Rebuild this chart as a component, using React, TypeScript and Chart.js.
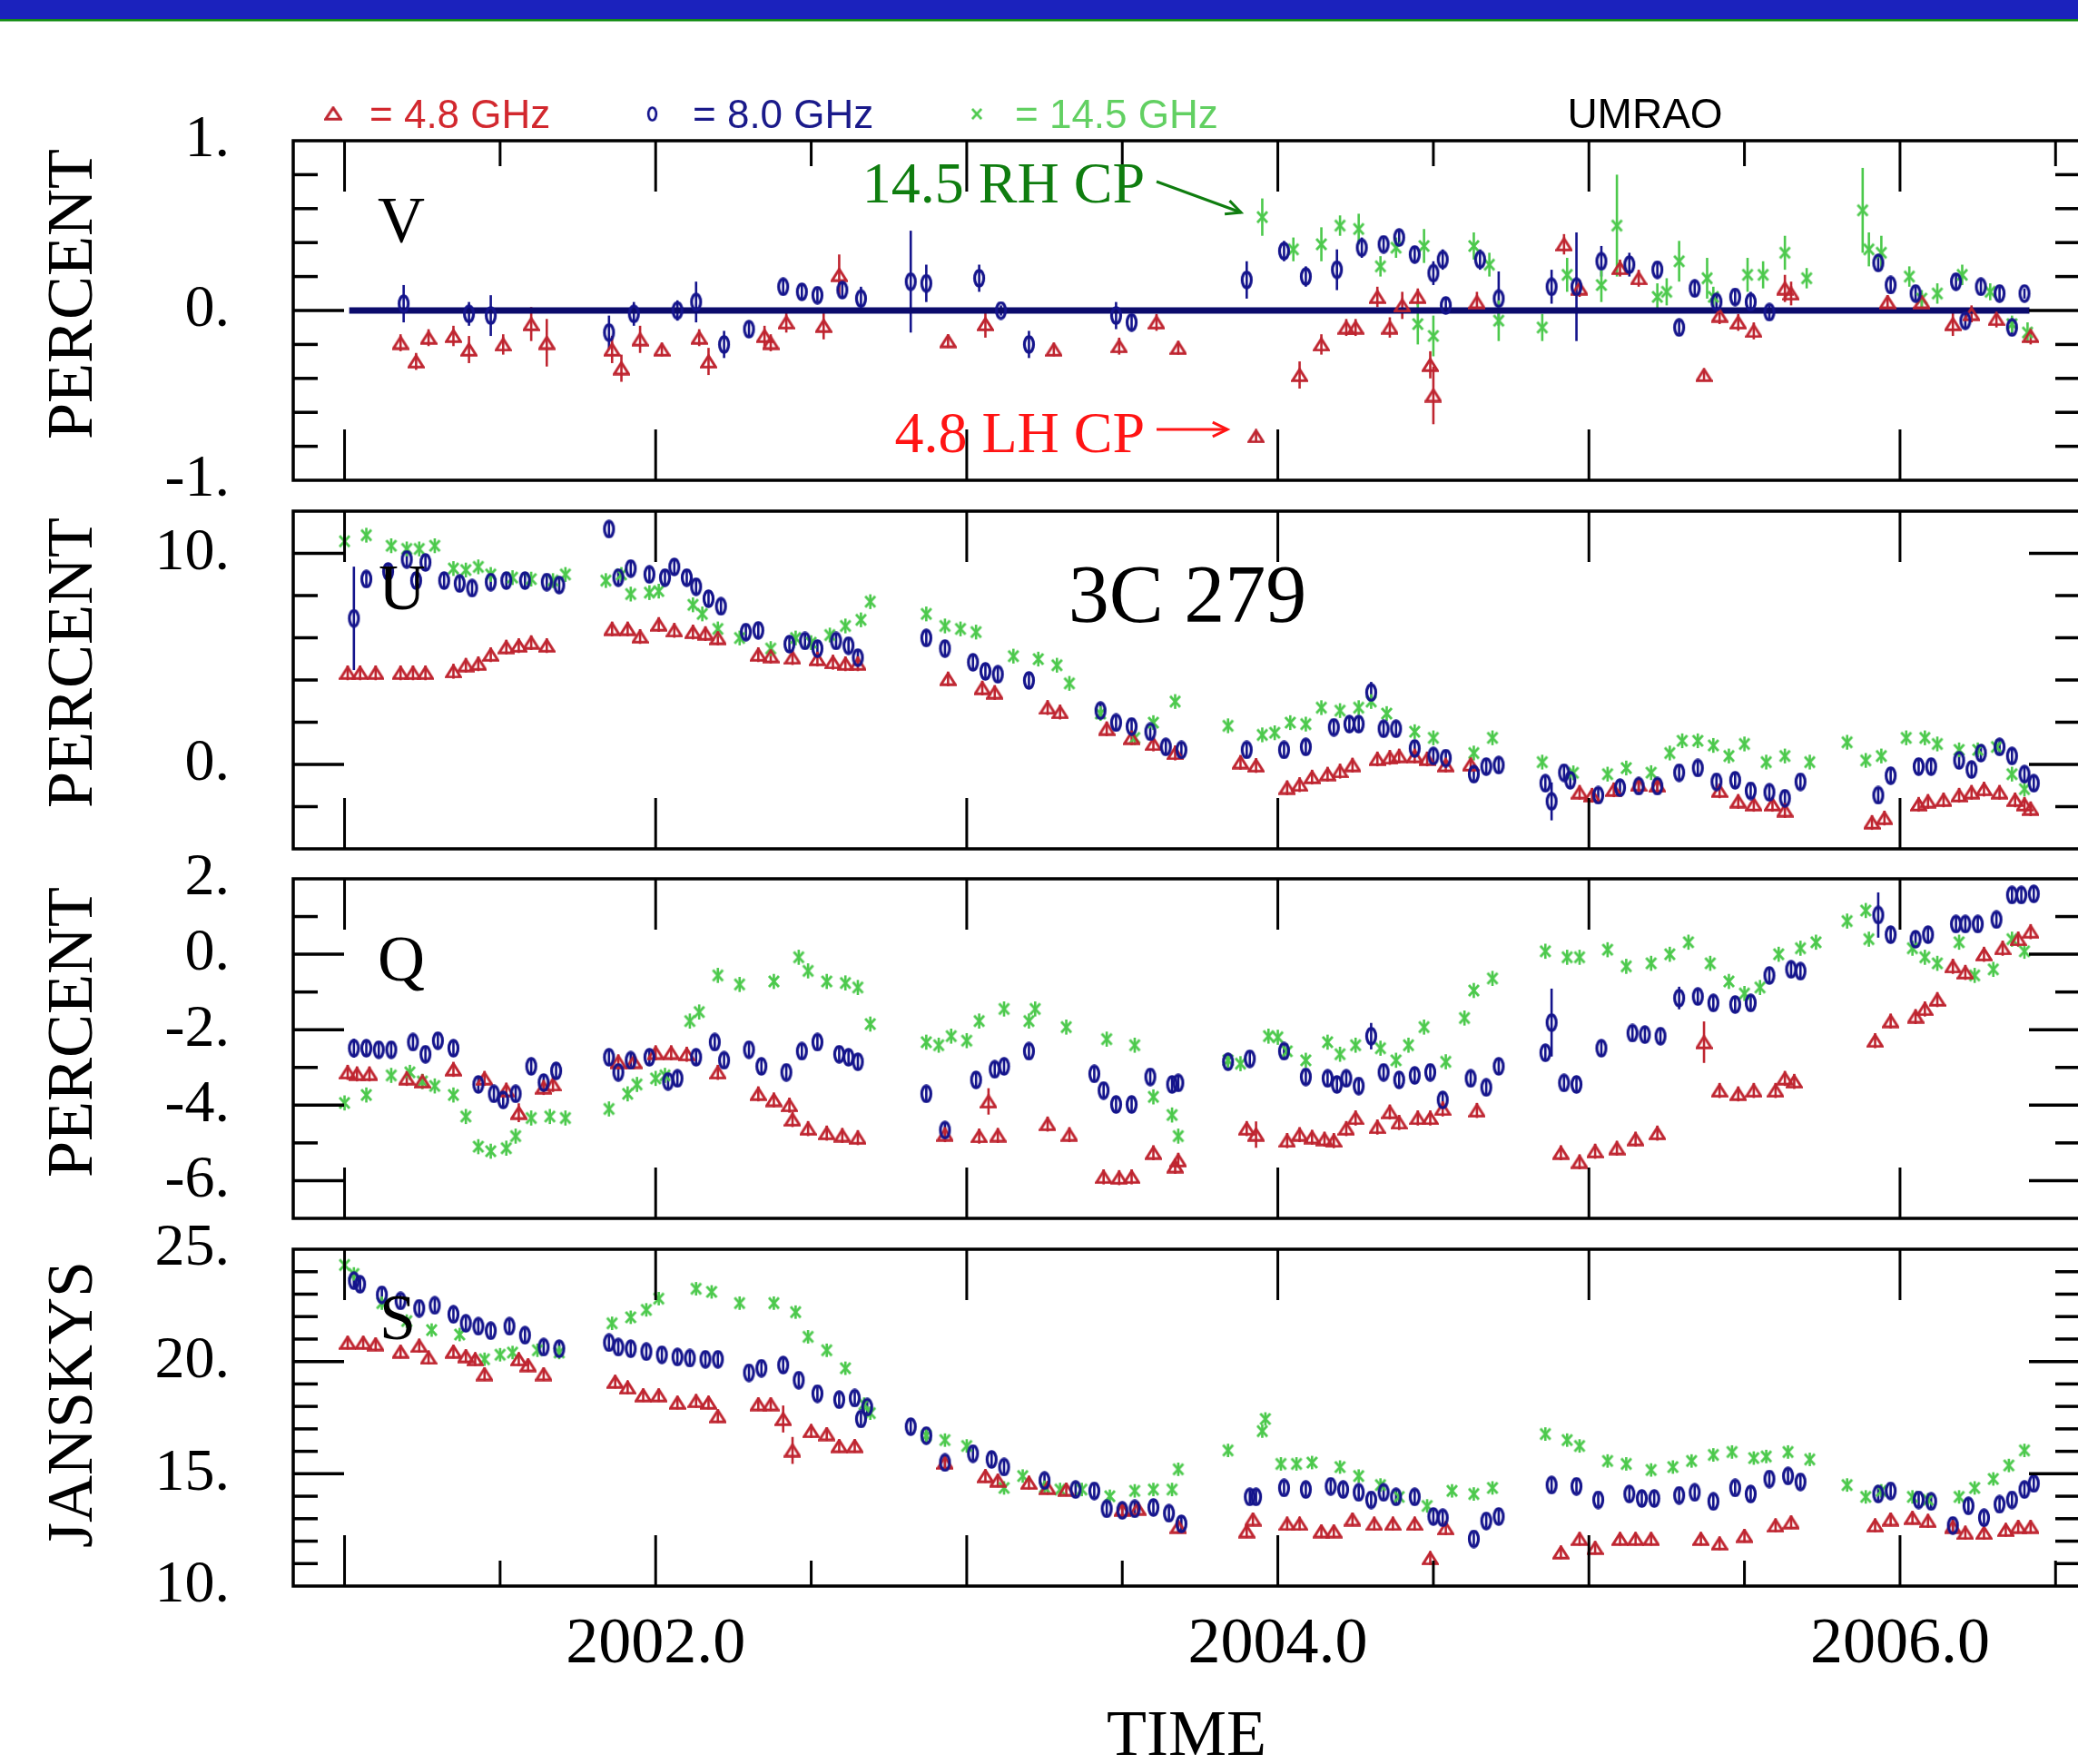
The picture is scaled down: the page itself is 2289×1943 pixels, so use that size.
import React, { useEffect, useRef } from 'react';
import { Chart, registerables } from 'chart.js';
Chart.register(...registerables);

// ---------------- data ----------------
const X_MIN = 2000.835;
const X_MAX = 2006.578;
const YEARS = [2001, 2002, 2003, 2004, 2005, 2006];
const HALF_YEARS = [2001.5, 2002.5, 2003.5, 2004.5, 2005.5, 2006.5];
const X_LABELS = [2002, 2004, 2006];
const ZERO_LINE_T = [2001.015, 2006.416];
const ZERO_LINE_V = [0, 0];

// V (circular polarization, percent)
const V_RED_T = [2001.18,2001.23,2001.27,2001.35,2001.40,2001.51,2001.60,2001.65,2001.86,2001.89,2001.95,2002.02,2002.14,2002.17,2002.35,2002.37,2002.42,2002.54,2002.59,2002.94,2003.06,2003.28,2003.49,2003.61,2003.68,2003.93,2004.07,2004.14,2004.22,2004.25,2004.32,2004.36,2004.40,2004.45,2004.49,2004.50,2004.64,2004.92,2004.97,2005.10,2005.16,2005.37,2005.42,2005.48,2005.53,2005.63,2005.65,2005.96,2006.07,2006.17,2006.23,2006.31,2006.42];
const V_RED = [-0.19,-0.30,-0.16,-0.15,-0.23,-0.20,-0.08,-0.19,-0.23,-0.34,-0.17,-0.23,-0.16,-0.30,-0.15,-0.19,-0.07,-0.09,0.21,-0.18,-0.08,-0.23,-0.21,-0.07,-0.22,-0.74,-0.38,-0.20,-0.10,-0.10,0.08,-0.10,0.03,0.08,-0.32,-0.50,0.05,0.39,0.13,0.25,0.19,-0.38,-0.03,-0.07,-0.12,0.13,0.10,0.05,0.05,-0.08,-0.02,-0.05,-0.15];
const V_RED_ERR = [0.05,0.05,0.05,0.06,0.08,0.06,0.10,0.14,0.08,0.08,0.08,0.04,0.05,0.08,0.06,0.05,0.06,0.08,0.12,0.04,0.08,0.04,0.05,0.05,0.04,0.03,0.08,0.06,0.05,0.05,0.06,0.06,0.08,0.05,0.08,0.17,0.06,0.06,0.05,0.05,0.05,0.03,0.05,0.05,0.05,0.08,0.07,0.04,0.05,0.07,0.05,0.05,0.05];
const V_BLUE_T = [2001.19,2001.40,2001.47,2001.85,2001.93,2002.07,2002.13,2002.22,2002.30,2002.41,2002.47,2002.52,2002.60,2002.66,2002.82,2002.87,2003.04,2003.11,2003.20,2003.48,2003.53,2003.90,2004.02,2004.09,2004.19,2004.27,2004.34,2004.39,2004.44,2004.50,2004.53,2004.54,2004.65,2004.71,2004.88,2004.96,2005.04,2005.13,2005.22,2005.29,2005.34,2005.41,2005.47,2005.52,2005.58,2005.93,2005.97,2006.05,2006.18,2006.21,2006.26,2006.32,2006.36,2006.40];
const V_BLUE = [0.04,-0.02,-0.03,-0.13,-0.02,0.00,0.05,-0.20,-0.11,0.14,0.11,0.09,0.12,0.07,0.17,0.16,0.19,0.00,-0.20,-0.03,-0.07,0.18,0.35,0.20,0.24,0.37,0.39,0.43,0.33,0.22,0.30,0.03,0.30,0.07,0.14,0.14,0.29,0.27,0.24,-0.10,0.13,0.05,0.08,0.05,-0.01,0.28,0.15,0.10,0.17,-0.06,0.14,0.10,-0.10,0.10];
const V_BLUE_ERR = [0.11,0.07,0.12,0.10,0.07,0.06,0.12,0.08,0.05,0.05,0.04,0.04,0.05,0.07,0.30,0.11,0.08,0.03,0.08,0.08,0.05,0.11,0.06,0.06,0.12,0.06,0.04,0.04,0.05,0.07,0.06,0.05,0.06,0.16,0.10,0.32,0.09,0.07,0.05,0.04,0.05,0.04,0.05,0.06,0.04,0.05,0.05,0.04,0.05,0.05,0.05,0.04,0.04,0.03];
const V_GREEN_T = [2003.95,2004.05,2004.14,2004.20,2004.26,2004.33,2004.38,2004.45,2004.47,2004.50,2004.63,2004.68,2004.71,2004.85,2004.93,2005.04,2005.09,2005.22,2005.25,2005.29,2005.38,2005.40,2005.51,2005.56,2005.63,2005.70,2005.88,2005.90,2005.94,2006.03,2006.07,2006.12,2006.20,2006.29,2006.36,2006.41];
const V_GREEN = [0.55,0.36,0.39,0.50,0.48,0.26,0.37,-0.08,0.38,-0.15,0.38,0.27,-0.06,-0.10,0.21,0.15,0.50,0.08,0.11,0.29,0.19,0.08,0.21,0.21,0.34,0.19,0.59,0.36,0.34,0.20,0.07,0.10,0.21,0.11,-0.08,-0.13];
const V_GREEN_ERR = [0.11,0.07,0.10,0.06,0.09,0.06,0.06,0.12,0.10,0.12,0.08,0.07,0.12,0.08,0.10,0.10,0.30,0.08,0.08,0.12,0.12,0.06,0.10,0.08,0.10,0.06,0.25,0.10,0.10,0.06,0.05,0.06,0.06,0.05,0.05,0.06];

// U (percent)
const U_RED_T = [2001.01,2001.05,2001.10,2001.18,2001.22,2001.26,2001.35,2001.39,2001.43,2001.47,2001.52,2001.56,2001.60,2001.65,2001.86,2001.91,2001.95,2002.01,2002.06,2002.12,2002.16,2002.20,2002.33,2002.37,2002.44,2002.52,2002.57,2002.61,2002.65,2002.94,2003.05,2003.09,2003.26,2003.30,2003.45,2003.53,2003.60,2003.67,2003.88,2003.93,2004.03,2004.07,2004.11,2004.16,2004.20,2004.24,2004.32,2004.36,2004.39,2004.44,2004.48,2004.54,2004.62,2004.97,2005.01,2005.08,2005.16,2005.22,2005.42,2005.48,2005.53,2005.59,2005.63,2005.91,2005.95,2006.06,2006.09,2006.14,2006.19,2006.23,2006.27,2006.32,2006.37,2006.40,2006.42];
const U_RED = [4.34,4.34,4.34,4.34,4.34,4.34,4.41,4.70,4.77,5.20,5.56,5.63,5.77,5.63,6.42,6.42,6.06,6.63,6.35,6.27,6.20,5.99,5.20,5.13,5.06,4.99,4.84,4.77,4.77,4.05,3.62,3.41,2.69,2.48,1.69,1.26,0.97,0.54,0.10,-0.05,-1.10,-0.96,-0.60,-0.46,-0.32,-0.03,0.26,0.33,0.40,0.40,0.26,-0.03,0.00,-1.32,-1.46,-1.20,-0.96,-1.00,-1.25,-1.75,-1.89,-1.89,-2.18,-2.75,-2.54,-1.89,-1.75,-1.68,-1.46,-1.32,-1.17,-1.32,-1.68,-1.89,-2.10];
const U_BLUE_T = [2001.03,2001.07,2001.14,2001.20,2001.23,2001.26,2001.32,2001.37,2001.41,2001.47,2001.52,2001.58,2001.65,2001.69,2001.85,2001.88,2001.92,2001.98,2002.03,2002.06,2002.10,2002.13,2002.17,2002.21,2002.29,2002.33,2002.43,2002.48,2002.52,2002.58,2002.62,2002.65,2002.87,2002.93,2003.02,2003.06,2003.10,2003.20,2003.43,2003.48,2003.53,2003.59,2003.64,2003.69,2003.90,2004.02,2004.09,2004.18,2004.23,2004.26,2004.30,2004.34,2004.38,2004.44,2004.50,2004.54,2004.63,2004.67,2004.71,2004.86,2004.88,2004.92,2004.94,2005.03,2005.10,2005.16,2005.22,2005.29,2005.35,2005.41,2005.47,2005.52,2005.58,2005.63,2005.68,2005.93,2005.97,2006.06,2006.10,2006.19,2006.23,2006.26,2006.32,2006.36,2006.40,2006.43];
const U_BLUE = [6.92,8.78,9.14,9.71,8.71,9.57,8.71,8.57,8.35,8.64,8.71,8.71,8.64,8.50,11.15,8.85,9.28,9.00,8.85,9.36,8.85,8.42,7.85,7.49,6.27,6.35,5.70,5.85,5.49,5.85,5.63,5.06,5.99,5.49,4.84,4.41,4.27,3.98,2.55,1.98,1.80,1.55,0.83,0.69,0.69,0.69,0.83,1.76,1.91,1.91,3.41,1.69,1.69,0.76,0.40,0.30,-0.46,-0.10,-0.03,-0.89,-1.75,-0.39,-0.75,-1.46,-1.10,-1.03,-1.03,-0.39,-0.17,-0.82,-0.75,-1.25,-1.32,-1.60,-0.82,-1.46,-0.53,-0.10,-0.10,0.19,-0.24,0.54,0.83,0.40,-0.46,-0.89];
const U_GREEN_T = [2001.00,2001.07,2001.15,2001.20,2001.24,2001.29,2001.35,2001.39,2001.43,2001.47,2001.54,2001.60,2001.67,2001.71,2001.84,2001.89,2001.92,2001.98,2002.01,2002.12,2002.15,2002.20,2002.27,2002.37,2002.45,2002.50,2002.56,2002.61,2002.66,2002.69,2002.87,2002.93,2002.98,2003.03,2003.15,2003.23,2003.29,2003.33,2003.43,2003.54,2003.60,2003.67,2003.84,2003.95,2003.99,2004.04,2004.09,2004.14,2004.20,2004.26,2004.30,2004.35,2004.44,2004.50,2004.63,2004.69,2004.85,2004.95,2005.06,2005.12,2005.20,2005.26,2005.30,2005.35,2005.40,2005.45,2005.50,2005.57,2005.63,2005.71,2005.83,2005.89,2005.94,2006.02,2006.08,2006.12,2006.19,2006.25,2006.31,2006.36,2006.40];
const U_GREEN = [10.57,10.86,10.36,10.21,10.21,10.36,9.28,9.21,9.36,9.00,8.85,8.78,8.71,9.00,8.71,9.00,8.07,8.14,8.21,7.56,7.13,6.42,5.99,5.49,5.99,5.77,6.13,6.56,6.85,7.71,7.13,6.56,6.42,6.27,5.13,4.99,4.70,3.84,2.41,1.26,1.98,2.98,1.83,1.40,1.50,1.98,1.91,2.69,2.55,2.69,2.98,2.41,1.55,1.26,0.54,1.26,0.11,-0.40,-0.46,-0.17,-0.39,0.54,1.12,1.12,0.90,0.40,0.97,0.11,0.40,0.11,1.05,0.19,0.40,1.26,1.26,0.97,0.69,0.69,0.83,-0.46,-1.17];

// Q (percent)
const Q_RED_T = [2001.01,2001.04,2001.08,2001.20,2001.25,2001.35,2001.45,2001.52,2001.56,2001.64,2001.67,2001.88,2001.93,2002.00,2002.05,2002.10,2002.20,2002.33,2002.38,2002.43,2002.44,2002.49,2002.55,2002.60,2002.65,2002.93,2003.04,2003.07,2003.10,2003.26,2003.33,2003.44,2003.49,2003.53,2003.60,2003.67,2003.68,2003.90,2003.93,2004.03,2004.07,2004.11,2004.15,2004.18,2004.22,2004.25,2004.32,2004.36,2004.39,2004.45,2004.49,2004.53,2004.64,2004.91,2004.97,2005.02,2005.09,2005.15,2005.22,2005.37,2005.42,2005.48,2005.53,2005.60,2005.63,2005.66,2005.92,2005.97,2006.05,2006.08,2006.12,2006.17,2006.21,2006.27,2006.33,2006.38,2006.42];
const Q_RED = [-3.13,-3.17,-3.17,-3.29,-3.37,-3.05,-3.29,-3.60,-4.20,-3.53,-3.45,-2.85,-2.85,-2.61,-2.61,-2.65,-3.13,-3.70,-3.86,-4.00,-4.38,-4.62,-4.74,-4.80,-4.86,-4.78,-4.82,-3.90,-4.80,-4.50,-4.78,-5.90,-5.92,-5.90,-5.26,-5.62,-5.46,-4.62,-4.78,-4.94,-4.78,-4.85,-4.90,-4.94,-4.62,-4.34,-4.58,-4.18,-4.46,-4.34,-4.34,-4.10,-4.14,-5.26,-5.50,-5.22,-5.14,-4.90,-4.74,-2.33,-3.61,-3.70,-3.61,-3.61,-3.29,-3.37,-2.29,-1.77,-1.65,-1.45,-1.20,-0.32,-0.48,0.00,0.16,0.40,0.60];
const Q_BLUE_T = [2001.03,2001.07,2001.11,2001.15,2001.22,2001.26,2001.30,2001.35,2001.43,2001.48,2001.51,2001.55,2001.60,2001.64,2001.68,2001.85,2001.88,2001.92,2001.98,2002.04,2002.07,2002.13,2002.19,2002.22,2002.30,2002.34,2002.42,2002.47,2002.52,2002.59,2002.62,2002.65,2002.87,2002.93,2003.03,2003.09,2003.12,2003.20,2003.41,2003.44,2003.48,2003.53,2003.59,2003.66,2003.68,2003.84,2003.91,2004.02,2004.09,2004.16,2004.19,2004.22,2004.26,2004.30,2004.34,2004.39,2004.44,2004.49,2004.53,2004.62,2004.67,2004.71,2004.86,2004.88,2004.92,2004.96,2005.04,2005.14,2005.18,2005.23,2005.29,2005.35,2005.40,2005.47,2005.52,2005.58,2005.65,2005.68,2005.93,2005.97,2006.05,2006.09,2006.18,2006.21,2006.25,2006.31,2006.36,2006.39,2006.43];
const Q_BLUE = [-2.49,-2.49,-2.53,-2.53,-2.33,-2.65,-2.29,-2.49,-3.45,-3.70,-3.86,-3.70,-2.97,-3.40,-3.09,-2.73,-3.13,-2.81,-2.73,-3.37,-3.29,-2.73,-2.33,-2.81,-2.53,-2.97,-3.13,-2.57,-2.33,-2.65,-2.73,-2.85,-3.70,-4.66,-3.33,-3.05,-2.97,-2.57,-3.17,-3.61,-3.98,-3.98,-3.25,-3.45,-3.41,-2.85,-2.77,-2.57,-3.25,-3.29,-3.45,-3.29,-3.49,-2.17,-3.13,-3.33,-3.21,-3.13,-3.86,-3.29,-3.53,-2.97,-2.61,-1.81,-3.41,-3.45,-2.49,-2.09,-2.13,-2.17,-1.16,-1.12,-1.29,-1.33,-1.29,-0.56,-0.40,-0.45,1.04,0.52,0.40,0.52,0.80,0.80,0.80,0.92,1.57,1.57,1.60];
const Q_GREEN_T = [2001.00,2001.07,2001.15,2001.21,2001.25,2001.29,2001.35,2001.39,2001.43,2001.47,2001.52,2001.55,2001.60,2001.66,2001.71,2001.85,2001.91,2001.94,2002.00,2002.03,2002.11,2002.14,2002.20,2002.27,2002.38,2002.46,2002.49,2002.55,2002.61,2002.65,2002.69,2002.87,2002.91,2002.95,2003.00,2003.04,2003.12,2003.20,2003.22,2003.32,2003.45,2003.54,2003.60,2003.66,2003.68,2003.84,2003.88,2003.97,2004.00,2004.03,2004.09,2004.16,2004.20,2004.25,2004.33,2004.38,2004.42,2004.47,2004.54,2004.60,2004.63,2004.69,2004.86,2004.93,2004.97,2005.06,2005.12,2005.20,2005.26,2005.32,2005.39,2005.45,2005.50,2005.55,2005.61,2005.68,2005.73,2005.83,2005.89,2005.90,2006.04,2006.08,2006.12,2006.19,2006.24,2006.30,2006.36,2006.40];
const Q_GREEN = [-3.94,-3.73,-3.21,-3.13,-3.37,-3.49,-3.73,-4.30,-5.10,-5.22,-5.14,-4.82,-4.34,-4.30,-4.34,-4.10,-3.70,-3.45,-3.29,-3.21,-1.77,-1.53,-0.56,-0.80,-0.72,-0.08,-0.44,-0.72,-0.76,-0.88,-1.85,-2.33,-2.41,-2.17,-2.29,-1.77,-1.45,-1.77,-1.45,-1.93,-2.25,-2.41,-3.78,-4.26,-4.82,-2.81,-2.90,-2.17,-2.20,-2.57,-2.81,-2.33,-2.65,-2.41,-2.49,-2.81,-2.41,-1.93,-2.85,-1.69,-0.96,-0.64,0.08,-0.08,-0.08,0.12,-0.32,-0.24,0.00,0.32,-0.24,-0.72,-1.04,-0.88,0.00,0.16,0.32,0.88,1.16,0.40,0.16,-0.08,-0.24,0.32,-0.56,-0.40,0.40,0.08];

// S (flux density, Jy)
const S_RED_T = [2001.01,2001.06,2001.10,2001.18,2001.24,2001.27,2001.35,2001.39,2001.42,2001.45,2001.56,2001.59,2001.64,2001.87,2001.91,2001.96,2002.01,2002.07,2002.13,2002.17,2002.20,2002.33,2002.37,2002.41,2002.44,2002.50,2002.55,2002.59,2002.64,2002.93,2003.06,2003.10,2003.20,2003.26,2003.32,2003.50,2003.55,2003.68,2003.90,2003.92,2004.03,2004.07,2004.14,2004.18,2004.24,2004.31,2004.37,2004.44,2004.49,2004.54,2004.91,2004.97,2005.02,2005.10,2005.15,2005.20,2005.36,2005.42,2005.50,2005.60,2005.65,2005.92,2005.97,2006.04,2006.09,2006.17,2006.21,2006.27,2006.34,2006.38,2006.42];
const S_RED = [20.84,20.84,20.77,20.44,20.70,20.17,20.44,20.24,20.10,19.44,20.10,19.84,19.44,19.10,18.84,18.50,18.50,18.17,18.24,18.17,17.57,18.10,18.10,17.44,16.04,16.90,16.77,16.24,16.24,15.50,14.90,14.70,14.60,14.37,14.30,13.40,13.45,12.64,12.44,12.97,12.77,12.77,12.44,12.44,12.97,12.77,12.77,12.77,11.24,12.57,11.50,12.10,11.70,12.10,12.10,12.10,12.10,11.90,12.24,12.70,12.84,12.70,12.97,13.04,12.90,12.64,12.37,12.37,12.50,12.64,12.64];
const S_BLUE_T = [2001.03,2001.05,2001.12,2001.18,2001.24,2001.29,2001.35,2001.39,2001.43,2001.47,2001.53,2001.58,2001.64,2001.69,2001.85,2001.88,2001.92,2001.97,2002.02,2002.07,2002.11,2002.16,2002.20,2002.30,2002.34,2002.41,2002.46,2002.52,2002.59,2002.64,2002.66,2002.68,2002.82,2002.87,2002.93,2003.02,2003.08,2003.12,2003.25,2003.35,2003.41,2003.45,2003.50,2003.54,2003.60,2003.65,2003.69,2003.91,2003.93,2004.02,2004.09,2004.17,2004.21,2004.26,2004.30,2004.34,2004.38,2004.44,2004.50,2004.53,2004.63,2004.67,2004.71,2004.88,2004.96,2005.03,2005.13,2005.17,2005.21,2005.29,2005.34,2005.40,2005.47,2005.52,2005.58,2005.64,2005.68,2005.93,2005.97,2006.06,2006.10,2006.17,2006.22,2006.27,2006.32,2006.36,2006.40,2006.43];
const S_BLUE = [23.60,23.44,22.97,22.70,22.37,22.50,22.10,21.70,21.57,21.37,21.57,21.17,20.64,20.57,20.84,20.64,20.57,20.44,20.30,20.20,20.15,20.10,20.10,19.50,19.70,19.84,19.17,18.57,18.30,18.37,17.44,17.97,17.10,16.70,15.50,15.90,15.64,15.30,14.70,14.30,14.24,13.44,13.37,13.44,13.50,13.24,12.77,13.97,13.97,14.37,14.30,14.44,14.30,14.17,13.84,14.17,13.97,13.97,13.10,13.04,12.10,12.90,13.10,14.50,14.44,13.84,14.10,13.90,13.90,14.04,14.17,13.77,14.37,14.10,14.77,14.90,14.64,14.10,14.24,13.84,13.77,12.70,13.57,13.04,13.64,13.84,14.30,14.57];
const S_GREEN_T = [2001.00,2001.03,2001.12,2001.20,2001.28,2001.37,2001.45,2001.50,2001.54,2001.62,2001.69,2001.86,2001.92,2001.97,2002.01,2002.13,2002.18,2002.27,2002.38,2002.45,2002.49,2002.55,2002.61,2002.67,2002.69,2002.87,2002.93,2003.00,2003.12,2003.18,2003.25,2003.30,2003.37,2003.46,2003.54,2003.60,2003.66,2003.68,2003.84,2003.95,2003.96,2004.01,2004.06,2004.11,2004.20,2004.26,2004.33,2004.39,2004.48,2004.56,2004.63,2004.69,2004.86,2004.93,2004.97,2005.06,2005.12,2005.20,2005.27,2005.33,2005.40,2005.46,2005.53,2005.57,2005.64,2005.71,2005.83,2005.89,2005.94,2006.04,2006.09,2006.19,2006.24,2006.30,2006.35,2006.40];
const S_GREEN = [24.30,23.90,22.60,21.80,21.40,21.20,20.10,20.30,20.40,20.50,20.40,21.70,21.97,22.30,22.80,23.24,23.10,22.60,22.60,22.20,21.10,20.50,19.70,18.10,17.70,16.70,16.50,16.24,14.37,14.90,14.40,14.30,14.30,14.00,14.24,14.30,14.30,15.20,16.04,16.90,17.44,15.44,15.44,15.50,15.30,14.90,14.50,13.97,13.57,14.24,14.10,14.37,16.77,16.50,16.24,15.57,15.44,15.17,15.30,15.57,15.84,15.97,15.70,15.77,15.97,15.64,14.50,13.97,14.24,13.97,13.84,13.97,14.37,14.77,15.37,16.04];

// typical error bars and the few large ones [time, error]
const U_ERR = 0.35;
const Q_ERR = 0.2;
const S_ERR = 0.3;
const U_BLUE_BIG: [number, number][] = [[2001.03, 2.45], [2004.88, 0.9], [2004.30, 0.5]];
const Q_RED_BIG: [number, number][] = [[2005.37, 0.55], [2003.07, 0.35], [2003.93, 0.35], [2001.56, 0.25]];
const Q_BLUE_BIG: [number, number][] = [[2004.88, 0.9], [2005.93, 0.6], [2004.30, 0.35], [2005.29, 0.3], [2001.03, 0.25]];
const S_RED_BIG: [number, number][] = [[2002.44, 0.6], [2002.41, 0.6]];

// ---------------- styling ----------------
const SERIF = '"Liberation Serif", "Times New Roman", "DejaVu Serif", serif';
const SANS = '"Liberation Sans", Arial, "DejaVu Sans", sans-serif';
const RED = '#bf2530';
const BLUE = '#14148c';
const GREEN = '#4cc94c';
const ZERO_COLOR = '#0b0b6c';

function errs(t: number[], def: number, big: [number, number][] = []) {
  return t.map((tt) => {
    const b = big.find((x) => Math.abs(x[0] - tt) < 1e-6);
    return b ? b[1] : def;
  });
}

let MARKERS: Record<string, HTMLCanvasElement> | null = null;
function getMarkers() {
  if (MARKERS) return MARKERS;
  const tri = document.createElement('canvas');
  tri.width = 19; tri.height = 16;
  let c = tri.getContext('2d')!;
  c.strokeStyle = RED; c.lineWidth = 3;
  c.beginPath(); c.moveTo(9.5, 1.8); c.lineTo(17.4, 14.3); c.lineTo(1.6, 14.3); c.closePath(); c.stroke();
  const ell = document.createElement('canvas');
  ell.width = 15; ell.height = 21;
  c = ell.getContext('2d')!;
  c.strokeStyle = BLUE; c.lineWidth = 3.2;
  c.beginPath(); c.ellipse(7.5, 10.5, 5, 8.6, 0, 0, Math.PI * 2); c.stroke();
  const crs = document.createElement('canvas');
  crs.width = 15; crs.height = 16;
  c = crs.getContext('2d')!;
  c.strokeStyle = GREEN; c.lineWidth = 2.8;
  c.beginPath(); c.moveTo(2, 2); c.lineTo(13, 14); c.moveTo(13, 2); c.lineTo(2, 14); c.stroke();
  MARKERS = { tri, ell, crs };
  return MARKERS;
}

type Series = { t: number[]; v: number[]; e: number[]; kind: 'tri' | 'ell' | 'crs'; color: string };
type Panel = {
  key: string; top: number; bottom: number; min: number; max: number;
  labels: number[]; majors: number[]; minorStep: number;
  title: string; titleY: number; letter: string; letterX: number; letterY: number;
  halfTop: boolean; halfBottom: boolean; last: boolean; zero: boolean;
  series: Series[];
};

const PANELS: Panel[] = [
  {
    key: 'V', top: 155, bottom: 529, min: -1, max: 1, labels: [1, 0, -1], majors: [0], minorStep: 0.2,
    title: 'PERCENT', titleY: 324, letter: 'V', letterX: 442, letterY: 247,
    halfTop: true, halfBottom: false, last: false, zero: true,
    series: [
      { t: V_BLUE_T, v: V_BLUE, e: V_BLUE_ERR, kind: 'ell', color: BLUE },
      { t: V_RED_T, v: V_RED, e: V_RED_ERR, kind: 'tri', color: RED },
      { t: V_GREEN_T, v: V_GREEN, e: V_GREEN_ERR, kind: 'crs', color: GREEN },
    ],
  },
  {
    key: 'U', top: 563, bottom: 935, min: -4, max: 12, labels: [10, 0], majors: [0, 10], minorStep: 2,
    title: 'PERCENT', titleY: 730, letter: 'U', letterX: 443, letterY: 652,
    halfTop: false, halfBottom: false, last: false, zero: false,
    series: [
      { t: U_BLUE_T, v: U_BLUE, e: errs(U_BLUE_T, U_ERR, U_BLUE_BIG), kind: 'ell', color: BLUE },
      { t: U_RED_T, v: U_RED, e: errs(U_RED_T, U_ERR), kind: 'tri', color: RED },
      { t: U_GREEN_T, v: U_GREEN, e: errs(U_GREEN_T, U_ERR), kind: 'crs', color: GREEN },
    ],
  },
  {
    key: 'Q', top: 968, bottom: 1342, min: -7, max: 2, labels: [2, 0, -2, -4, -6], majors: [0, -2, -4, -6], minorStep: 1,
    title: 'PERCENT', titleY: 1137, letter: 'Q', letterX: 442, letterY: 1061,
    halfTop: false, halfBottom: false, last: false, zero: false,
    series: [
      { t: Q_BLUE_T, v: Q_BLUE, e: errs(Q_BLUE_T, Q_ERR, Q_BLUE_BIG), kind: 'ell', color: BLUE },
      { t: Q_RED_T, v: Q_RED, e: errs(Q_RED_T, Q_ERR, Q_RED_BIG), kind: 'tri', color: RED },
      { t: Q_GREEN_T, v: Q_GREEN, e: errs(Q_GREEN_T, Q_ERR), kind: 'crs', color: GREEN },
    ],
  },
  {
    key: 'S', top: 1376, bottom: 1747, min: 10, max: 25, labels: [25, 20, 15, 10], majors: [15, 20], minorStep: 1,
    title: 'JANSKYS', titleY: 1547, letter: 'S', letterX: 438, letterY: 1456,
    halfTop: false, halfBottom: true, last: true, zero: false,
    series: [
      { t: S_BLUE_T, v: S_BLUE, e: errs(S_BLUE_T, S_ERR), kind: 'ell', color: BLUE },
      { t: S_RED_T, v: S_RED, e: errs(S_RED_T, S_ERR, S_RED_BIG), kind: 'tri', color: RED },
      { t: S_GREEN_T, v: S_GREEN, e: errs(S_GREEN_T, S_ERR), kind: 'crs', color: GREEN },
    ],
  },
];

const PAGE_W = 2289;
const PAGE_H = 1943;
const CANVAS_W = 2300;
const PLOT_LEFT = 323;
const PLOT_RIGHT = 2292;
const PAD = 120; // must exceed half a tick label plus the tick padding

function fmtTick(v: number) {
  return `${Math.round(v)}.`;
}

const errorBarPlugin = {
  id: 'errorBars',
  beforeDatasetsDraw(chart: any) {
    const { ctx, chartArea: a } = chart;
    const ys = chart.scales.y;
    ctx.save();
    ctx.beginPath();
    ctx.rect(a.left, a.top, a.right - a.left, a.bottom - a.top);
    ctx.clip();
    chart.data.datasets.forEach((ds: any, i: number) => {
      if (!ds.errs) return;
      const meta = chart.getDatasetMeta(i);
      ctx.strokeStyle = ds.errColor;
      ctx.lineWidth = 2.6;
      meta.data.forEach((pt: any, j: number) => {
        const e = ds.errs[j];
        if (!e) return;
        const v = ds.data[j].y;
        ctx.beginPath();
        ctx.moveTo(pt.x, ys.getPixelForValue(v + e));
        ctx.lineTo(pt.x, ys.getPixelForValue(v - e));
        ctx.stroke();
      });
    });
    ctx.restore();
  },
};

function line(ctx: CanvasRenderingContext2D, x1: number, y1: number, x2: number, y2: number) {
  ctx.beginPath();
  ctx.moveTo(x1, y1);
  ctx.lineTo(x2, y2);
  ctx.stroke();
}

function arrow(ctx: CanvasRenderingContext2D, x1: number, y1: number, x2: number, y2: number, color: string) {
  ctx.save();
  ctx.strokeStyle = color;
  ctx.lineWidth = 3;
  line(ctx, x1, y1, x2, y2);
  const ang = Math.atan2(y2 - y1, x2 - x1);
  const hl = 18;
  const sp = 0.45;
  ctx.beginPath();
  ctx.moveTo(x2 - hl * Math.cos(ang - sp), y2 - hl * Math.sin(ang - sp));
  ctx.lineTo(x2, y2);
  ctx.lineTo(x2 - hl * Math.cos(ang + sp), y2 - hl * Math.sin(ang + sp));
  ctx.stroke();
  ctx.restore();
}

function makeDeco(p: Panel, canvasTop: number) {
  const Y = (y: number) => y - canvasTop;
  return {
    id: 'deco',
    beforeDraw(chart: any) {
      if (p.key !== 'V') return;
      const ctx = chart.ctx as CanvasRenderingContext2D;
      ctx.save();
      ctx.fillStyle = '#1b22bd';
      ctx.fillRect(0, 0, CANVAS_W, 21);
      ctx.fillStyle = '#148c14';
      ctx.fillRect(0, 21, CANVAS_W, 2.5);
      ctx.restore();
    },
    afterDraw(chart: any) {
      const ctx = chart.ctx as CanvasRenderingContext2D;
      const a = chart.chartArea;
      const xs = chart.scales.x;
      const ys = chart.scales.y;
      ctx.save();
      ctx.strokeStyle = '#000';
      ctx.lineWidth = 3.5;
      ctx.strokeRect(a.left, a.top, a.right - a.left, a.bottom - a.top);
      // y ticks (inward, both sides)
      const n = Math.round((p.max - p.min) / p.minorStep);
      ctx.lineWidth = 3.5;
      for (let i = 1; i < n; i++) {
        const v = p.min + i * p.minorStep;
        const py = ys.getPixelForValue(v);
        const major = p.majors.some((m) => Math.abs(m - v) < 1e-6);
        const len = major ? 56 : 27;
        line(ctx, a.left, py, a.left + len, py);
        line(ctx, a.right, py, a.right - len, py);
      }
      // x ticks
      ctx.lineWidth = 3;
      YEARS.forEach((yr) => {
        const px = xs.getPixelForValue(yr);
        line(ctx, px, a.top, px, a.top + 56);
        line(ctx, px, a.bottom, px, a.bottom - 56);
      });
      HALF_YEARS.forEach((yr) => {
        const px = xs.getPixelForValue(yr);
        if (p.halfTop) line(ctx, px, a.top, px, a.top + 28);
        if (p.halfBottom) line(ctx, px, a.bottom, px, a.bottom - 28);
      });
      // axis title (rotated)
      ctx.fillStyle = '#000';
      ctx.save();
      ctx.translate(82, Y(p.titleY));
      ctx.rotate(-Math.PI / 2);
      ctx.font = `72px ${SERIF}`;
      ctx.textAlign = 'center';
      ctx.textBaseline = 'middle';
      ctx.fillText(p.title, 0, 0);
      ctx.restore();
      // panel letter
      ctx.font = `72px ${SERIF}`;
      ctx.textAlign = 'center';
      ctx.textBaseline = 'middle';
      ctx.fillText(p.letter, p.letterX, Y(p.letterY));

      if (p.key === 'U') {
        ctx.font = `90px ${SERIF}`;
        ctx.fillText('3C 279', 1308, Y(661));
      }
      if (p.key === 'V') {
        const mk = getMarkers();
        // legend
        ctx.drawImage(mk.tri, 357, 117, 20, 16);
        ctx.drawImage(mk.ell, 712, 117, 13, 17);
        ctx.drawImage(mk.crs, 1069, 118, 14, 15);
        ctx.textAlign = 'left';
        ctx.textBaseline = 'alphabetic';
        ctx.font = `44px ${SANS}`;
        ctx.fillStyle = '#d2282e';
        ctx.fillText('= 4.8 GHz', 407, 141);
        ctx.fillStyle = '#1a1a8a';
        ctx.fillText('= 8.0 GHz', 763, 141);
        ctx.fillStyle = '#62d062';
        ctx.fillText('= 14.5 GHz', 1118, 141);
        ctx.fillStyle = '#000';
        ctx.textAlign = 'center';
        ctx.font = `46px ${SANS}`;
        ctx.fillText('UMRAO', 1812, 141);
        // annotations
        ctx.textAlign = 'right';
        ctx.font = `64px ${SERIF}`;
        ctx.fillStyle = '#0f7d0f';
        ctx.fillText('14.5 RH CP', 1261, 223);
        arrow(ctx, 1274, 200, 1367, 234, '#0f7d0f');
        ctx.fillStyle = '#ff1414';
        ctx.fillText('4.8 LH CP', 1261, 498);
        arrow(ctx, 1274, 473, 1352, 473, '#ff1414');
      }
      ctx.restore();
    },
  };
}

function PanelChart({ p }: { p: Panel }) {
  const ref = useRef<HTMLCanvasElement>(null);
  const canvasTop = p.key === 'V' ? 0 : p.top - PAD;
  const padTop = p.top - canvasTop;
  const height = p.last ? PAGE_H - canvasTop : p.bottom + PAD - canvasTop;
  const padBottom = p.last ? 0 : PAD;

  useEffect(() => {
    const mk = getMarkers();
    const datasets: any[] = p.series.map((s, i) => ({
      label: `${p.key}-${s.kind}`,
      data: s.t.map((t, j) => ({ x: t, y: s.v[j] })),
      pointStyle: mk[s.kind],
      pointRadius: 8,
      borderColor: s.color,
      backgroundColor: s.color,
      showLine: false,
      errs: s.e,
      errColor: s.color,
      order: i + 1,
    }));
    if (p.zero) {
      datasets.push({
        label: 'zero',
        data: ZERO_LINE_T.map((t, j) => ({ x: t, y: ZERO_LINE_V[j] })),
        showLine: true,
        borderColor: ZERO_COLOR,
        borderWidth: 7,
        pointRadius: 0,
        order: 10,
      });
    }
    const xScale: any = {
      type: 'linear',
      min: X_MIN,
      max: X_MAX,
      display: p.last,
      grid: { display: false, drawTicks: false },
      border: { display: false },
    };
    if (p.last) {
      Object.assign(xScale, {
        afterBuildTicks: (axis: any) => {
          axis.ticks = X_LABELS.map((v) => ({ value: v }));
        },
        afterFit: (axis: any) => {
          axis.height = PAGE_H - p.bottom;
        },
        ticks: {
          autoSkip: false,
          maxRotation: 0,
          padding: 22,
          color: '#000',
          font: { family: SERIF, size: 72 },
          callback: (v: any) => Number(v).toFixed(1),
        },
        title: {
          display: true,
          text: 'TIME',
          color: '#000',
          font: { family: SERIF, size: 72, lineHeight: 0.8 },
          padding: { top: 0, bottom: 0 },
        },
      });
    }
    const chart = new Chart(ref.current as HTMLCanvasElement, {
      type: 'scatter',
      data: { datasets },
      options: {
        animation: false,
        responsive: false,
        events: [],
        layout: { padding: { left: 0, right: CANVAS_W - PLOT_RIGHT, top: padTop, bottom: padBottom } },
        plugins: { legend: { display: false }, tooltip: { enabled: false } },
        scales: {
          x: xScale,
          y: {
            type: 'linear',
            min: p.min,
            max: p.max,
            grid: { display: false, drawTicks: false },
            border: { display: false },
            afterBuildTicks: (axis: any) => {
              axis.ticks = p.labels.map((v) => ({ value: v }));
            },
            afterFit: (axis: any) => {
              axis.width = PLOT_LEFT;
            },
            ticks: {
              autoSkip: false,
              padding: 70,
              color: '#000',
              font: { family: SERIF, size: 66 },
              callback: (v: any) => fmtTick(Number(v)),
            },
          },
        },
      } as any,
      plugins: [errorBarPlugin, makeDeco(p, canvasTop)],
    });
    return () => chart.destroy();
  }, []);

  return (
    <canvas
      ref={ref}
      width={CANVAS_W}
      height={height}
      style={{ position: 'absolute', left: 0, top: canvasTop, width: CANVAS_W, height }}
    />
  );
}

export default function App() {
  return (
    <div
      style={{
        position: 'fixed',
        left: 0,
        top: 0,
        width: PAGE_W,
        height: PAGE_H,
        overflow: 'hidden',
        background: '#ffffff',
      }}
    >
      {PANELS.map((p) => (
        <PanelChart key={p.key} p={p} />
      ))}
    </div>
  );
}
